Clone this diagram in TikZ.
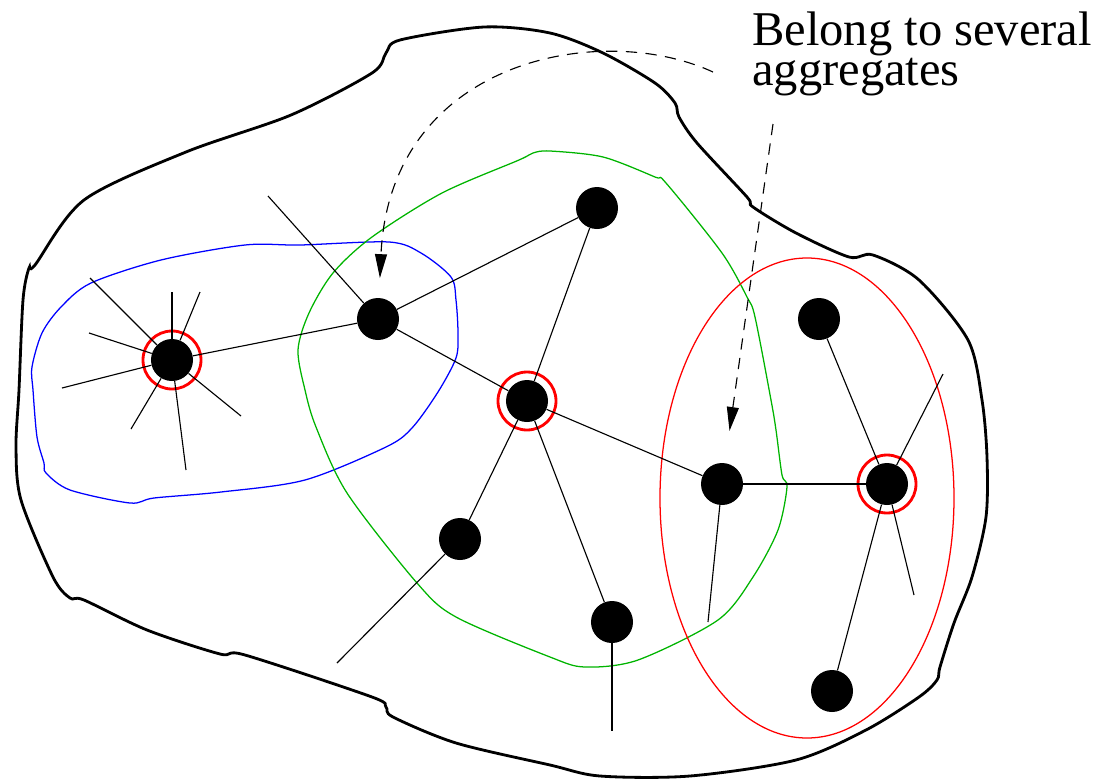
\documentclass[tikz,border=0pt]{standalone}
\usepackage{fontspec}
\setmainfont{Liberation Serif}
\usetikzlibrary{arrows.meta}
\definecolor{aggGreen}{RGB}{0,180,0}

\begin{document}
\begin{tikzpicture}[x=0.025cm, y=-0.025cm,
  vertex/.style={circle, fill=black, inner sep=0pt, minimum size=1.05cm},
  edge/.style={black, line width=0.8pt},
  ring/.style={red, line width=2pt},
  pointer/.style={black, line width=0.8pt, dash pattern=on 8pt off 6pt, -{Triangle[length=17pt, width=8.5pt]}}]
\useasboundingbox (0,0) rectangle (1101,778);
% whole domain
\draw[black, line width=2pt] plot[smooth cycle, tension=0.5] coordinates {
  (35,265) (84,200) (186,152) (291,115) (372,73) (386,53) (400,40) (484,27)
  (550,33) (603,53) (655,83) (675,103) (679,117) (697,143) (747,197) (753,207)
  (796,233) (849,257) (873,255) (919,280) (968,340) (982,400) (987,457) (986,517)
  (972,577) (954,623) (940,667) (937,680) (919,697) (866,730) (796,760) (690,776)
  (600,776) (550,765) (456,743) (393,717) (386,707) (372,697) (245,655) (220,654)
  (147,630) (84,600) (70,598) (53,577) (21,500) (16,447) (19,390) (23,300) (29,268)};
% aggregates
\draw[blue, line width=0.9pt] plot[smooth cycle, tension=0.5] coordinates {
  (91,283) (161,260) (245,245) (300,245) (389,242) (421,253) (451,277) (456,300)
  (458,333) (456,358) (438,392) (412,428) (386,447) (305,480) (221,492) (154,498)
  (130,503) (70,490) (46,473) (44,463) (37,437) (33,390) (32,367) (42,333) (61,307)};
\draw[aggGreen, line width=0.9pt] plot[smooth cycle, tension=0.5] coordinates {
  (533,153) (550,151) (603,157) (655,177) (666,183) (722,253) (747,297) (755,317)
  (771,400) (776,430) (782,475) (787,487) (778,530) (753,577) (718,620) (638,660)
  (585,667) (550,657) (456,617) (417,583) (347,493) (316,427) (305,390) (298,350)
  (309,313) (333,273) (372,237) (442,193) (519,160)};
\draw[red, line width=0.9pt] (807,498) ellipse [x radius=147, y radius=240];
% vertices
\node[vertex] (A) at (172,360) {};
\node[vertex] (B) at (378,319) {};
\node[vertex] (C) at (597,208) {};
\node[vertex] (D) at (527,401) {};
\node[vertex] (E) at (819,319) {};
\node[vertex] (F) at (722,484) {};
\node[vertex] (G) at (887,484) {};
\node[vertex] (H) at (832,691) {};
\node[vertex] (I) at (612,622) {};
\node[vertex] (J) at (460,539) {};
\foreach \n in {A,D,G}
  \draw[ring] (\n) circle[radius=29];
% loose ends
\foreach \x/\y [count=\i] in {90/278, 172/292, 200/292, 89/333, 62/388, 131/429, 186/470, 241/416}
  \coordinate (a\i) at (\x,\y);
\coordinate (b1) at (268,196);
\coordinate (j1) at (337,663);
\coordinate (i1) at (612,731);
\coordinate (f1) at (708,622);
\coordinate (g1) at (943,374);
\coordinate (g2) at (914,595);
% edges
\foreach \u/\v in {A/B, B/C, B/D, C/D, D/F, D/J, D/I, F/G, E/G, G/H, B/b1, J/j1, I/i1, F/f1, G/g1, G/g2}
  \draw[edge] (\u) -- (\v);
\foreach \i in {1,...,8}
  \draw[edge] (A) -- (a\i);
% note
\node[anchor=north west, inner sep=0pt, align=left, font=\fontsize{34.5}{28.4}\selectfont] (note) at (752,12) {Belong to several\\aggregates};
\coordinate (n1) at (713,72);
\coordinate (n2) at (773,124);
\draw[pointer, shorten >=14pt] (n1) .. controls (600,20) and (390,60) .. (B);
\draw[pointer, shorten >=23pt] (n2) -- (F);
\end{tikzpicture}
\end{document}
